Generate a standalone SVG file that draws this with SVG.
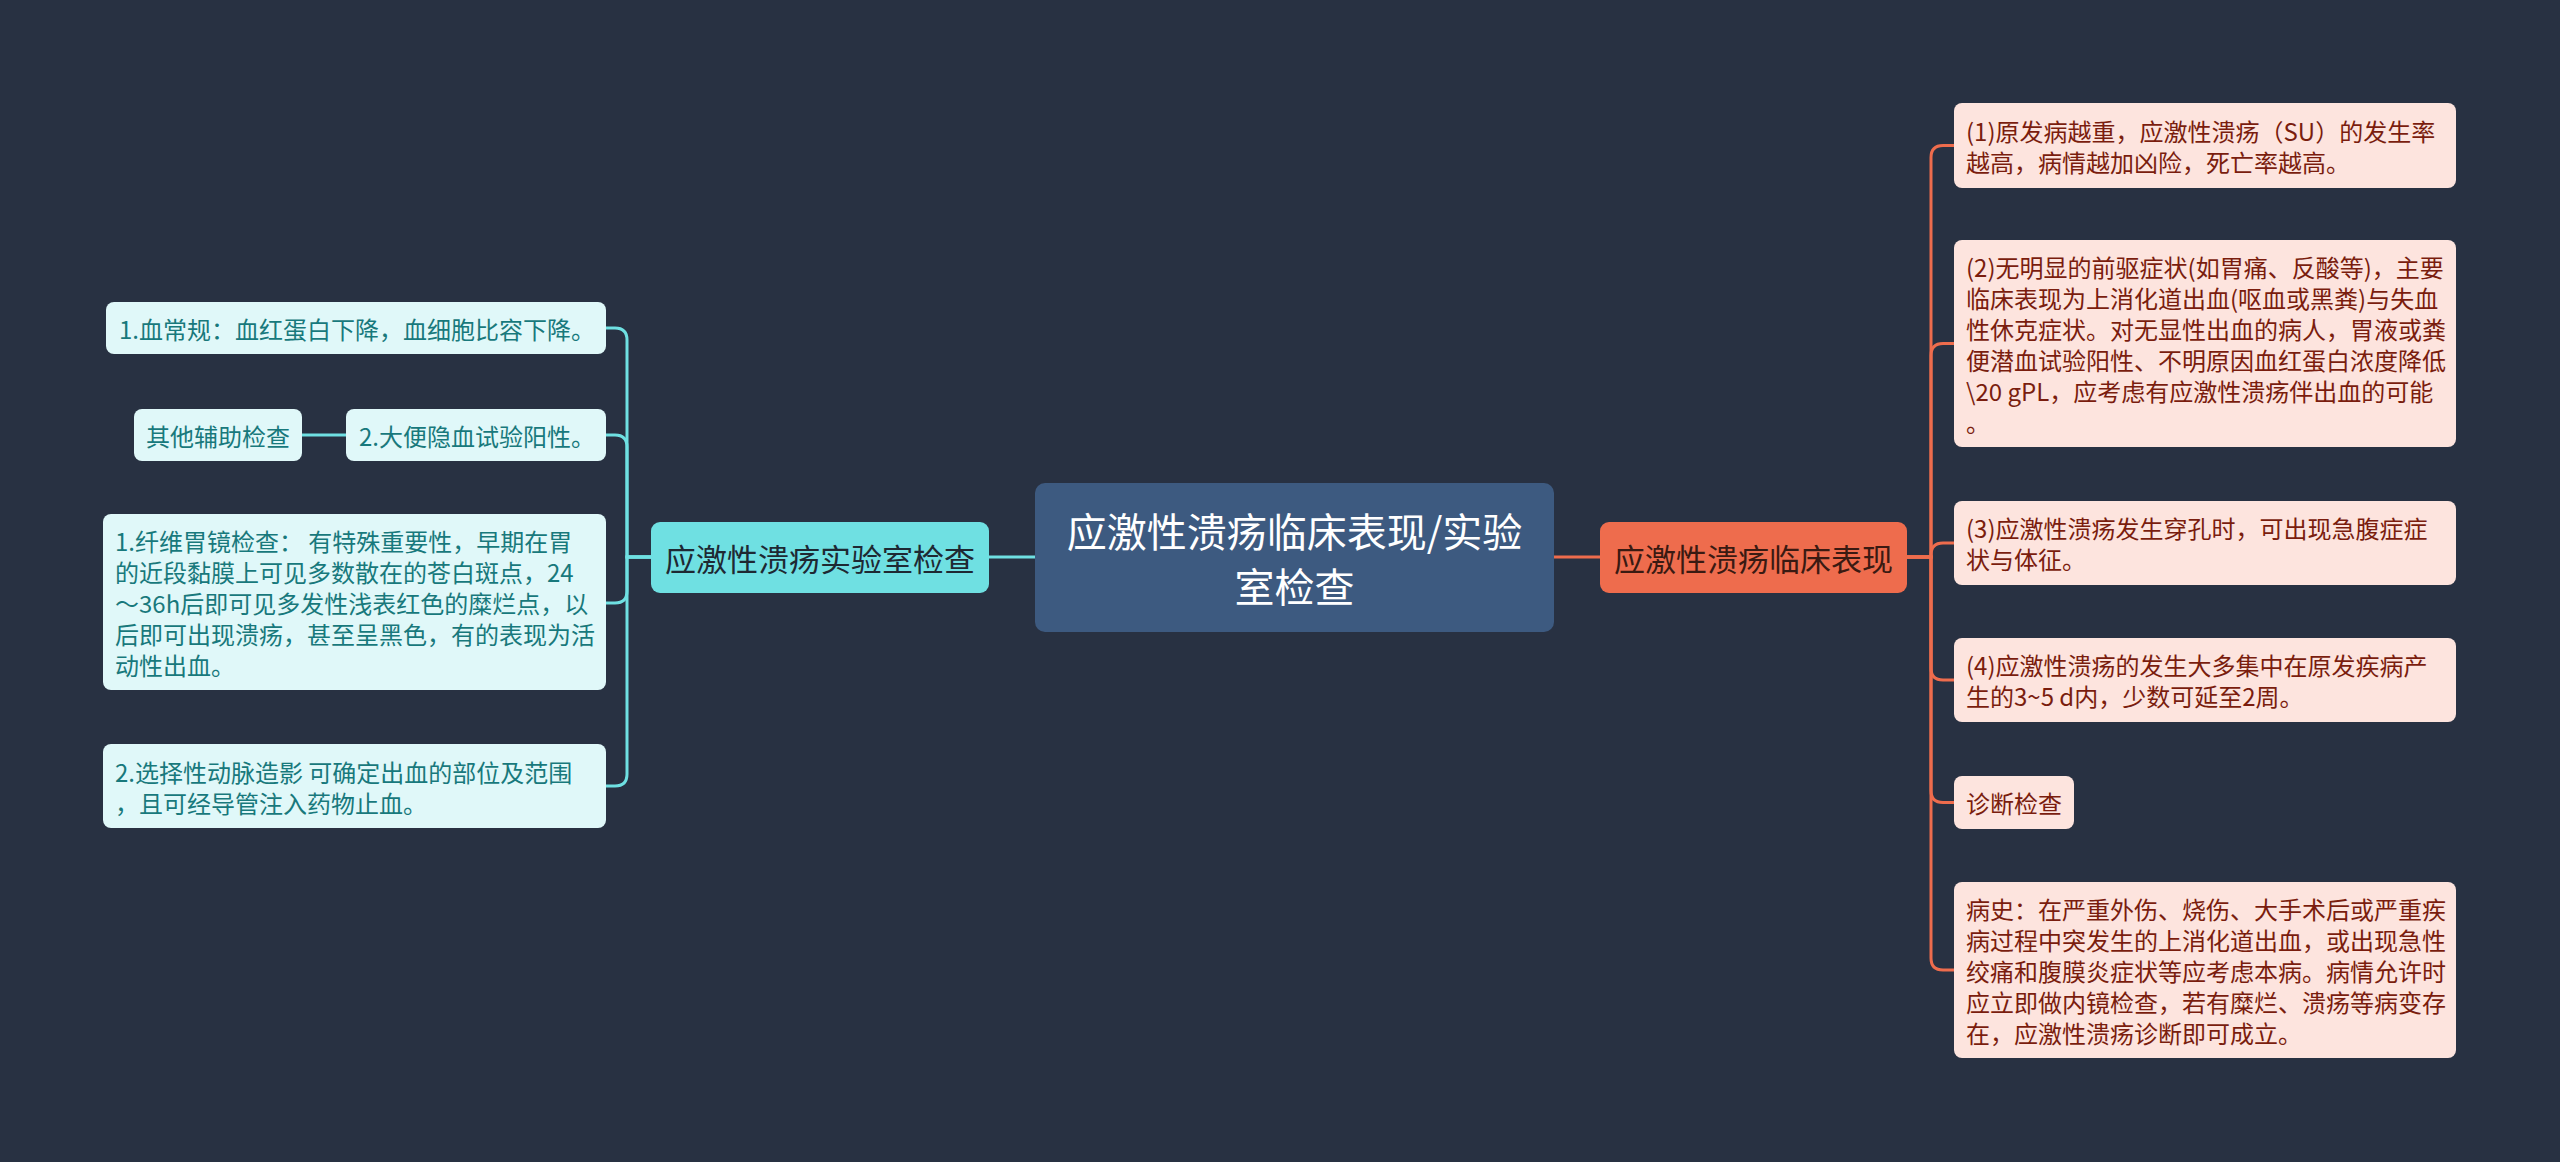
<svg xmlns="http://www.w3.org/2000/svg" width="2560" height="1162" viewBox="0 0 2560 1162">
<style>
text{font-family:"Noto Sans CJK SC","Noto Sans",sans-serif;dominant-baseline:central}
.lc{fill:none;stroke:#6fe0e2;stroke-width:3}
.rc{fill:none;stroke:#ee6c4d;stroke-width:3}
.ll{fill:#e0f8f9}
.llt{font-size:24px;fill:#18797c}
.rl{fill:#fde4de}
.rlt{font-size:24px;fill:#7a1d0e}
</style>
<rect width="2560" height="1162" fill="#283142"/>
<g id="connectors">
<path class="lc" d="M1035 557H989"/>
<path class="lc" d="M651 557H627V340Q627 328 615 328H606"/>
<path class="lc" d="M651 557H627V447Q627 435 615 435H606"/>
<path class="lc" d="M651 557H627V591Q627 603 615 603H606"/>
<path class="lc" d="M651 557H627V774Q627 786 615 786H606"/>
<path class="lc" d="M346 435H302"/>
<path class="rc" d="M1554 557H1600"/>
<path class="rc" d="M1907 557H1931V157.5Q1931 145.5 1943 145.5H1954"/>
<path class="rc" d="M1907 557H1931V355.5Q1931 343.5 1943 343.5H1954"/>
<path class="rc" d="M1907 557H1931V555Q1931 543 1943 543H1954"/>
<path class="rc" d="M1907 557H1931V668Q1931 680 1943 680H1954"/>
<path class="rc" d="M1907 557H1931V790.5Q1931 802.5 1943 802.5H1954"/>
<path class="rc" d="M1907 557H1931V958Q1931 970 1943 970H1954"/>
</g>
<g id="root">
<rect x="1035" y="483" width="519" height="149" rx="10" fill="#3d5a80"/>
<text x="1294.5" y="530" font-size="40" fill="#ffffff" text-anchor="middle">应激性溃疡临床表现/实验</text>
<text x="1294.5" y="585" font-size="40" fill="#ffffff" text-anchor="middle">室检查</text>
</g>
<g id="lab">
<rect x="651" y="522" width="338" height="71" rx="9" fill="#6fe0e2"/>
<text x="820" y="557.5" font-size="31" fill="#1e2933" text-anchor="middle">应激性溃疡实验室检查</text>
</g>
<g id="clinic">
<rect x="1600" y="522" width="307" height="71" rx="9" fill="#ee6c4d"/>
<text x="1753.5" y="557.5" font-size="31" fill="#3a1a12" text-anchor="middle">应激性溃疡临床表现</text>
</g>
<g id="l1">
<rect class="ll" x="106" y="302" width="500" height="52" rx="8"/>
<text class="llt" x="119" y="328">1.血常规：血红蛋白下降，血细胞比容下降。</text>
</g>
<g id="l2">
<rect class="ll" x="346" y="409" width="260" height="52" rx="8"/>
<text class="llt" x="359" y="435">2.大便隐血试验阳性。</text>
</g>
<g id="l2a">
<rect class="ll" x="134" y="409" width="168" height="52" rx="8"/>
<text class="llt" x="146" y="435">其他辅助检查</text>
</g>
<g id="l3">
<rect class="ll" x="103" y="514" width="503" height="176" rx="8"/>
<text class="llt" x="115" y="540">1.纤维胃镜检查： 有特殊重要性，早期在胃</text>
<text class="llt" x="115" y="571">的近段黏膜上可见多数散在的苍白斑点，24</text>
<text class="llt" x="115" y="602">～36h后即可见多发性浅表红色的糜烂点，以</text>
<text class="llt" x="115" y="633">后即可出现溃疡，甚至呈黑色，有的表现为活</text>
<text class="llt" x="115" y="664">动性出血。</text>
</g>
<g id="l4">
<rect class="ll" x="103" y="744" width="503" height="84" rx="8"/>
<text class="llt" x="115" y="771">2.选择性动脉造影 可确定出血的部位及范围</text>
<text class="llt" x="115" y="802">，且可经导管注入药物止血。</text>
</g>
<g id="r1">
<rect class="rl" x="1954" y="103" width="502" height="85" rx="8"/>
<text class="rlt" x="1966" y="130">(1)原发病越重，应激性溃疡（SU）的发生率</text>
<text class="rlt" x="1966" y="161">越高，病情越加凶险，死亡率越高。</text>
</g>
<g id="r2">
<rect class="rl" x="1954" y="240" width="502" height="207" rx="8"/>
<text class="rlt" x="1966" y="266">(2)无明显的前驱症状(如胃痛、反酸等)，主要</text>
<text class="rlt" x="1966" y="297">临床表现为上消化道出血(呕血或黑粪)与失血</text>
<text class="rlt" x="1966" y="328">性休克症状。对无显性出血的病人，胃液或粪</text>
<text class="rlt" x="1966" y="359">便潜血试验阳性、不明原因血红蛋白浓度降低</text>
<text class="rlt" x="1966" y="390">\20 gPL，应考虑有应激性溃疡伴出血的可能</text>
<text class="rlt" x="1966" y="421">。</text>
</g>
<g id="r3">
<rect class="rl" x="1954" y="501" width="502" height="84" rx="8"/>
<text class="rlt" x="1966" y="527.5">(3)应激性溃疡发生穿孔时，可出现急腹症症</text>
<text class="rlt" x="1966" y="558.5">状与体征。</text>
</g>
<g id="r4">
<rect class="rl" x="1954" y="638" width="502" height="84" rx="8"/>
<text class="rlt" x="1966" y="664.5">(4)应激性溃疡的发生大多集中在原发疾病产</text>
<text class="rlt" x="1966" y="695.5">生的3~5 d内，少数可延至2周。</text>
</g>
<g id="r5">
<rect class="rl" x="1954" y="776" width="120" height="53" rx="8"/>
<text class="rlt" x="1966" y="802.5">诊断检查</text>
</g>
<g id="r6">
<rect class="rl" x="1954" y="882" width="502" height="176" rx="8"/>
<text class="rlt" x="1966" y="908">病史：在严重外伤、烧伤、大手术后或严重疾</text>
<text class="rlt" x="1966" y="939">病过程中突发生的上消化道出血，或出现急性</text>
<text class="rlt" x="1966" y="970">绞痛和腹膜炎症状等应考虑本病。病情允许时</text>
<text class="rlt" x="1966" y="1001">应立即做内镜检查，若有糜烂、溃疡等病变存</text>
<text class="rlt" x="1966" y="1032">在，应激性溃疡诊断即可成立。</text>
</g>
</svg>
